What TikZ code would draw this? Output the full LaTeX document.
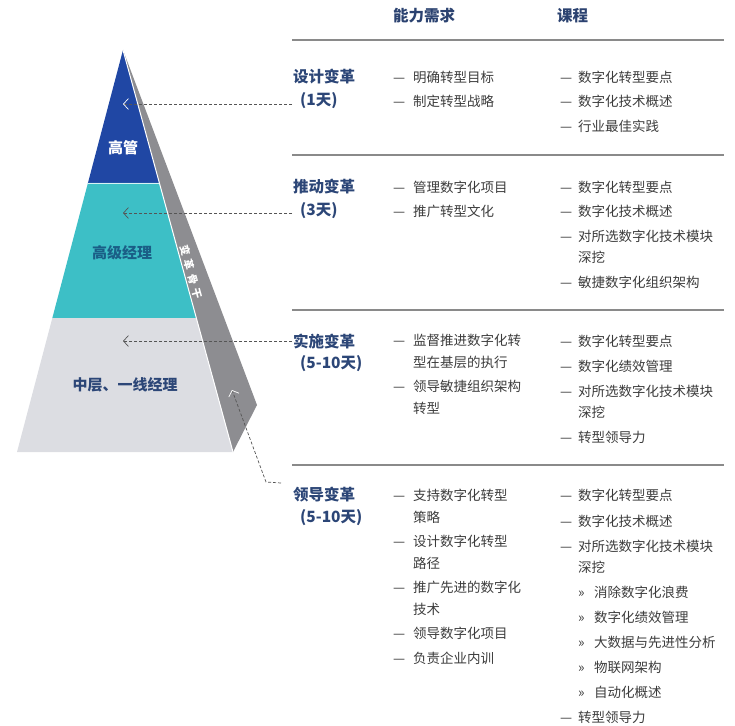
\documentclass[tikz,border=0pt]{standalone}
\usepackage{fontspec}
\setmainfont{Noto Sans CJK SC}
\usetikzlibrary{calc,arrows.meta}
\definecolor{topblue}{HTML}{2047A4}
\definecolor{midteal}{HTML}{3DBFC6}
\definecolor{lowgray}{HTML}{DCDDE2}
\definecolor{sidegray}{HTML}{8D8D91}
\definecolor{navy}{HTML}{2B4270}
\definecolor{labc}{HTML}{2C4677}
\definecolor{itemc}{HTML}{3C3C3C}
\definecolor{rulec}{HTML}{8A8A8A}
\definecolor{dashc}{HTML}{555555}
\definecolor{tealtext}{HTML}{1A5E86}
\tikzset{
  itm/.style={anchor=west, inner sep=0pt, text=itemc, font=\fontsize{13.5}{15}\selectfont},
  hdr/.style={anchor=west, inner sep=0pt, text=navy, font=\fontsize{15.5}{17}\selectfont\bfseries},
  lab/.style={anchor=west, inner sep=0pt, text=labc, font=\fontsize{15.5}{17}\selectfont\bfseries},
  rulel/.style={draw=rulec, line width=1.5pt},
  dashl/.style={draw=dashc, line width=0.7pt, dash pattern=on 3pt off 2pt},
  tipw/.style={-{Straight Barb[length=5pt,width=11pt,color=white]}},
  tipg/.style={-{Straight Barb[length=5pt,width=11pt,color=dashc]}},
  pyrlab/.style={inner sep=0pt, font=\fontsize{15}{17}\selectfont\bfseries}
}
\newcommand\itA[4]{\node[itm] (#1) at (393,#2) {\makebox[20pt][l]{—}#3};\ifx&#4&\else\node[itm] (#1c) at (413,#2+22) {#4};\fi}
\newcommand\itB[4]{\node[itm] (#1) at (560,#2) {\makebox[18pt][l]{—}#3};\ifx&#4&\else\node[itm] (#1c) at (578,#2+21) {#4};\fi}
\newcommand\itS[3]{\node[itm] (#1) at (578,#2) {\makebox[16pt][l]{»}#3};}
\begin{document}
\begin{tikzpicture}[x=1pt,y=-1pt]
\useasboundingbox (0,0) rectangle (735,725);
% pyramid
\coordinate (A) at (123,50);
\coordinate (L) at (17,452);
\coordinate (R) at (233,452);
\coordinate (S) at (257,405);
\coordinate (L1) at ($(A)!0.3308!(L)$);
\coordinate (R1) at ($(A)!0.3308!(R)$);
\coordinate (L2) at ($(A)!0.6667!(L)$);
\coordinate (R2) at ($(A)!0.6667!(R)$);
\fill[sidegray] (A) -- (S) -- (R) -- cycle;
\fill[topblue] (A) -- (L1) -- (R1) -- cycle;
\fill[midteal] (L1) -- (L2) -- (R2) -- (R1) -- cycle;
\fill[lowgray] (L2) -- (L) -- (R) -- (R2) -- cycle;
\draw[white, line width=1pt] (A) -- (R);
\draw[white!80!midteal, line width=0.5pt] (L1) -- (R1);
\node[pyrlab, text=white] (p1) at (123,148) {高管};
\node[pyrlab, text=tealtext] (p2) at (122,253) {高级经理};
\node[pyrlab, text=labc] (p3) at (125,385) {中层、一线经理};
\node[inner sep=0pt, text=white, rotate=-74.7, font=\fontsize{10.5}{13}\selectfont\bfseries] (side) at (191,272) {变\hspace{4.5pt}革\hspace{4.5pt}骨\hspace{4.5pt}干};
% headers
\node[hdr] (h1) at (393,16) {能力需求};
\node[hdr] (h2) at (557,16) {课程};
% rules
\draw[rulel] (292,40) -- (724,40);
\draw[rulel] (292,155) -- (724,155);
\draw[rulel] (292,310) -- (724,310);
\draw[rulel] (292,465) -- (724,465);
% section labels
\node[lab] (s1a) at (293,77) {设计变革};
\node[lab] (s1b) at (300,101) {(1天)};
\node[lab] (s2a) at (293,187) {推动变革};
\node[lab] (s2b) at (300,211) {(3天)};
\node[lab] (s3a) at (293,341) {实施变革};
\node[lab] (s3b) at (300,364) {(5-10天)};
\node[lab] (s4a) at (293,495) {领导变革};
\node[lab] (s4b) at (300,518) {(5-10天)};
% section 1
\itA{a11}{77}{明确转型目标}{}
\itA{a12}{101}{制定转型战略}{}
\itB{b11}{77}{数字化转型要点}{}
\itB{b12}{101}{数字化技术概述}{}
\itB{b13}{126}{行业最佳实践}{}
% section 2
\itA{a21}{187}{管理数字化项目}{}
\itA{a22}{211}{推广转型文化}{}
\itB{b21}{187}{数字化转型要点}{}
\itB{b22}{211}{数字化技术概述}{}
\itB{b23}{236}{对所选数字化技术模块}{深挖}
\itB{b24}{282}{敏捷数字化组织架构}{}
% section 3
\itA{a31}{340}{监督推进数字化转}{型在基层的执行}
\itA{a32}{386}{领导敏捷组织架构}{转型}
\itB{b31}{341}{数字化转型要点}{}
\itB{b32}{366}{数字化绩效管理}{}
\itB{b33}{391}{对所选数字化技术模块}{深挖}
\itB{b34}{437}{转型领导力}{}
% section 4
\itA{a41}{495}{支持数字化转型}{策略}
\itA{a42}{541}{设计数字化转型}{路径}
\itA{a43}{587}{推广先进的数字化}{技术}
\itA{a44}{633}{领导数字化项目}{}
\itA{a45}{658}{负责企业内训}{}
\itB{b41}{495}{数字化转型要点}{}
\itB{b42}{521}{数字化技术概述}{}
\itB{b43}{546}{对所选数字化技术模块}{深挖}
\itS{c1}{592}{消除数字化浪费}
\itS{c2}{617}{数字化绩效管理}
\itS{c3}{642}{大数据与先进性分析}
\itS{c4}{667}{物联网架构}
\itS{c5}{692}{自动化概述}
\itB{b44}{717}{转型领导力}{}
% dashed connectors
\coordinate (e1) at (292,104);
\coordinate (t1) at (123,104);
\coordinate (e2) at (292,213);
\coordinate (t2) at (123,213);
\coordinate (e3) at (292,341);
\coordinate (t3) at (123,341);
\coordinate (e4) at (281,483);
\coordinate (k4) at (266,482);
\coordinate (t4) at (232,390);
\draw[dashl, tipw] (e1) -- (t1);
\draw[dashl, tipg] (e2) -- (t2);
\draw[dashl, tipg] (e3) -- (t3);
\draw[dashl, tipw] (e4) -- (k4) -- (t4);
\end{tikzpicture}
\end{document}
